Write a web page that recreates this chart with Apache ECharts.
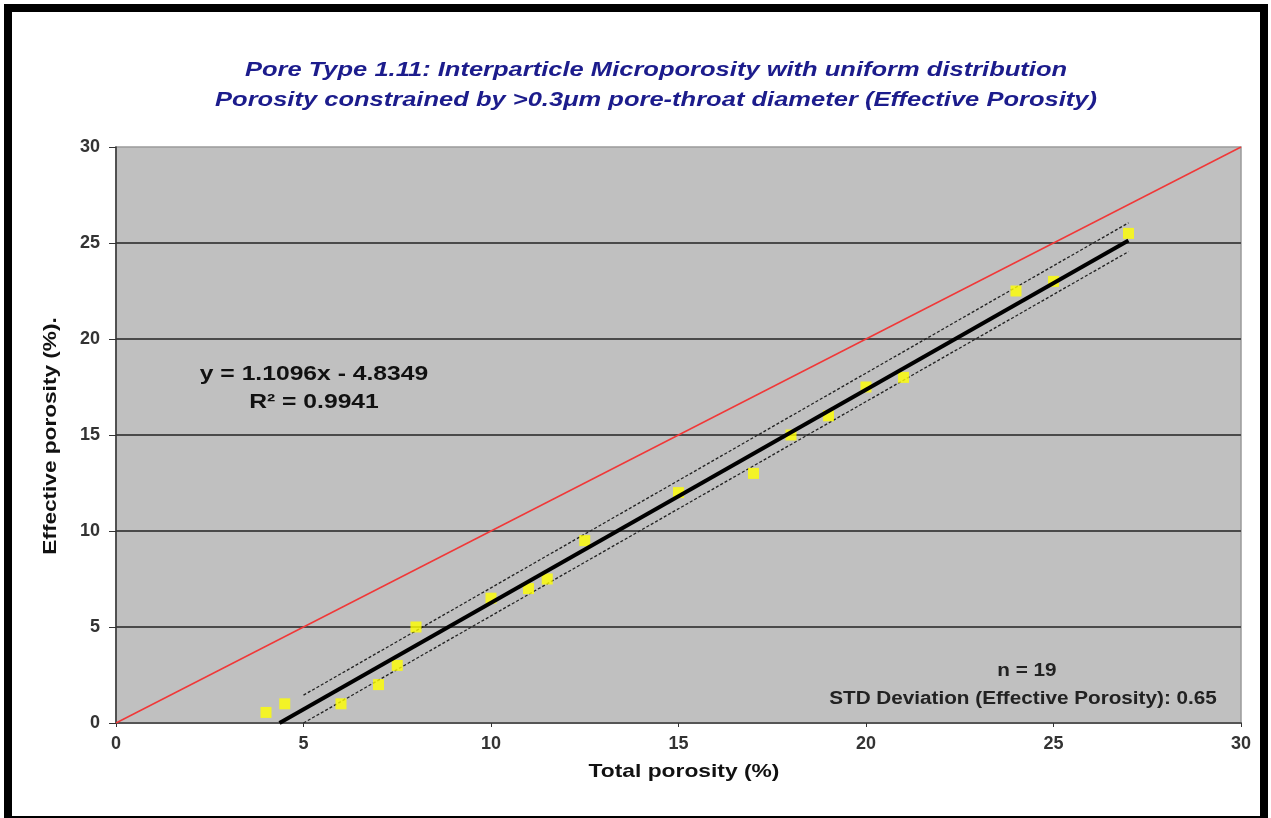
<!DOCTYPE html>
<html>
<head>
<meta charset="utf-8">
<script src="https://cdn.jsdelivr.net/npm/echarts@6/dist/echarts.min.js"></script>
<style>
html,body{margin:0;padding:0;background:#fff;}
#chart{width:1271px;height:818px;}
</style>
</head>
<body>
<div id="chart"></div>
<script>
// Data
const titleLines = [
  'Pore Type 1.11: Interparticle Microporosity with uniform distribution',
  'Porosity constrained by >0.3\u03bcm pore-throat diameter (Effective Porosity)'
];
const xAxisName = 'Total porosity (%)';
const yAxisName = 'Effective porosity (%).';
const totalPorosity = [4, 4.5, 6, 7, 7.5, 8, 10, 11, 11.5, 12.5, 15, 17, 18, 19, 20, 21, 24, 25, 27];
const effectivePorosity = [0.55, 1.0, 1.0, 2.0, 3.0, 5.0, 6.5, 7.0, 7.5, 9.5, 12.0, 13.0, 15.0, 16.0, 17.5, 18.0, 22.5, 23.0, 25.5];
const trendX = [4.36, 27];
const trendY = [0, 25.13];
const upperX = [5, 27];
const upperY = [1.45, 26.05];
const lowerX = [5, 27];
const lowerY = [0.0, 24.55];
const oneToOneX = [0, 30];
const oneToOneY = [0, 30];
const equationText = ['y = 1.1096x - 4.8349', 'R\u00b2 = 0.9941'];
const statsText = ['n = 19', 'STD Deviation (Effective Porosity): 0.65'];

const pairs = (xs, ys) => xs.map((x, i) => [x, ys[i]]);

const FONT = 'Arial, "Liberation Sans", Helvetica, sans-serif';
const chart = echarts.init(document.getElementById('chart'), null, {renderer: 'canvas'});

function label(text, x, y, size, sx, color, extra, style) {
  return Object.assign({
    type: 'text', x: x, y: y, scaleX: sx, z: 10, silent: true,
    style: {text: text, textAlign: 'center', textVerticalAlign: 'middle',
      font: (style || 'bold') + ' ' + size + 'px ' + FONT, fill: color}
  }, extra || {});
}

chart.setOption({
  backgroundColor: '#ffffff',
  animation: false,
  grid: {
    left: 116, right: 30, top: 147, bottom: 95,
    show: true, backgroundColor: '#C0C0C0', borderColor: '#9a9a9a', borderWidth: 1.5
  },
  xAxis: {
    type: 'value', min: 0, max: 30, interval: 5,
    axisLine: {show: true, onZero: false, lineStyle: {color: '#555', width: 2}},
    axisTick: {show: true, length: 4, lineStyle: {color: '#333', width: 1}},
    axisLabel: {fontFamily: FONT, fontWeight: 'bold', fontSize: 18, color: '#333', margin: 12},
    splitLine: {show: false}
  },
  yAxis: {
    type: 'value', min: 0, max: 30, interval: 5,
    axisLine: {show: true, onZero: false, lineStyle: {color: '#333', width: 1.5}},
    axisTick: {show: true, length: 7, lineStyle: {color: '#333', width: 1}},
    axisLabel: {fontFamily: FONT, fontWeight: 'bold', fontSize: 18, color: '#333', margin: 16},
    splitLine: {show: true, showMinLine: false, showMaxLine: false, lineStyle: {color: '#4a4a4a', width: 2}}
  },
  series: [
    {
      type: 'line', data: pairs(oneToOneX, oneToOneY), symbol: 'none',
      lineStyle: {color: '#F03838', width: 1.5}, z: 2, silent: true
    },
    {
      type: 'line', data: pairs(upperX, upperY), symbol: 'none',
      lineStyle: {color: '#222', width: 1.3, type: [3, 2]}, z: 2, silent: true
    },
    {
      type: 'line', data: pairs(lowerX, lowerY), symbol: 'none',
      lineStyle: {color: '#222', width: 1.3, type: [3, 2]}, z: 2, silent: true
    },
    {
      type: 'scatter', data: pairs(totalPorosity, effectivePorosity),
      symbol: 'rect', symbolSize: 11, itemStyle: {color: '#FFFF00'}, z: 3
    },
    {
      type: 'line', data: pairs(trendX, trendY), symbol: 'none',
      lineStyle: {color: '#000', width: 4}, z: 4, silent: true
    }
  ],
  graphic: [
    {
      type: 'rect', shape: {x: 8, y: 8, width: 1256, height: 812},
      style: {fill: 'none', stroke: '#000', lineWidth: 8}, z: 100, silent: true
    },
    label(titleLines[0], 656, 70, 21, 1.215, '#1C1C8C', null, 'italic bold'),
    label(titleLines[1], 656, 100, 21, 1.215, '#1C1C8C', null, 'italic bold'),
    label(xAxisName, 684, 772, 19, 1.2, '#111'),
    label(yAxisName, 51, 436, 19, 1.19, '#111', {rotation: Math.PI / 2}),
    label(equationText[0], 314, 374, 21, 1.175, '#111'),
    label(equationText[1], 314, 402, 21, 1.175, '#111'),
    label(statsText[0], 1027, 671, 18, 1.15, '#222'),
    label(statsText[1], 1023, 699, 18, 1.15, '#222')
  ]
});
</script>
</body>
</html>
